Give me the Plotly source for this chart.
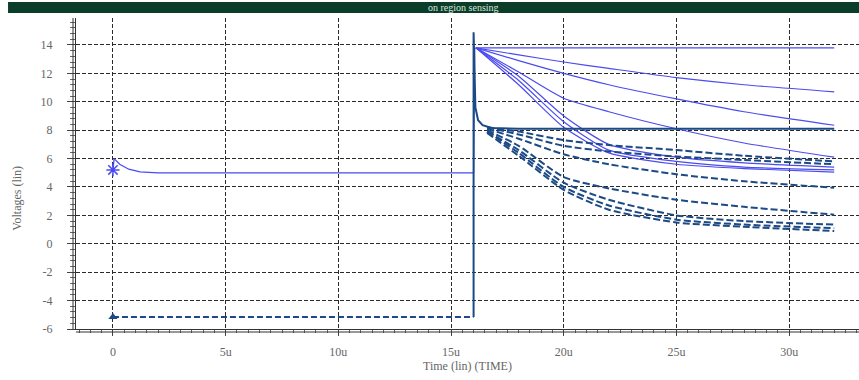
import plotly.graph_objects as go

# ---- waveform data (time in us, voltage in V) ----
# light-blue solid family: pre-charge then decay from ~13.8 V
pre_t = [0.0, 0.05, 0.3, 0.7, 1.2, 2.0, 16.0, 16.05]
pre_v = [5.2, 6.0, 5.6, 5.25, 5.07, 5.0, 5.0, 13.8]

solid_t = [16.1, 18.0, 20.0, 22.0, 25.0, 28.0, 32.0]
solid_v = {
    "s0": [13.8, 13.8, 13.8, 13.8, 13.8, 13.8, 13.8],
    "s1": [13.8, 13.3, 12.8, 12.35, 11.7, 11.2, 10.7],
    "s2": [13.8, 12.9, 12.0, 11.2, 10.2, 9.3, 8.35],
    "s3": [13.8, 12.1, 10.25, 9.3, 8.1, 7.1, 6.1],
    "s4": [13.8, 11.8, 9.0, 7.0, 6.1, 5.7, 5.4],
    "s5": [13.8, 11.5, 8.6, 6.6, 5.8, 5.4, 5.2],
    "s6": [13.8, 11.2, 8.2, 6.4, 5.6, 5.3, 5.05],
}

# dark trace: hold at -5.15 V, kick at 16 us, settle to ~8.1 V
hold_t = [0.0, 16.0]
hold_v = [-5.15, -5.15]
kick_t = [16.0, 16.0, 16.08, 16.2, 16.4, 16.8, 18.0, 32.0]
kick_v = [-5.15, 14.9, 9.6, 8.7, 8.35, 8.15, 8.1, 8.1]

# dark dashed family decaying from ~8.2 V
dash_t = [16.6, 18.0, 20.0, 22.0, 25.0, 28.0, 32.0]
dash_v = {
    "d0": [8.2, 7.9, 7.3, 6.95, 6.6, 6.2, 5.8],
    "d1": [8.2, 7.7, 6.9, 6.5, 6.15, 5.9, 5.6],
    "d2": [8.1, 7.4, 6.3, 5.6, 4.9, 4.4, 3.95],
    "d3": [8.0, 6.9, 4.7, 3.9, 3.1, 2.6, 2.05],
    "d4": [7.9, 6.6, 4.3, 3.1, 2.0, 1.6, 1.35],
    "d5": [7.9, 6.4, 4.0, 2.7, 1.7, 1.35, 1.1],
    "d6": [7.8, 6.2, 3.8, 2.4, 1.5, 1.2, 0.9],
}

x_ticks = [0, 5, 10, 15, 20, 25, 30]
x_labels = ["0", "5u", "10u", "15u", "20u", "25u", "30u"]
y_ticks = [-6, -4, -2, 0, 2, 4, 6, 8, 10, 12, 14]
y_labels = ["-6", "-4", "-2", "0", "2", "4", "6", "8", "10", "12", "14"]

LIGHT = "#4b4bf0"
DARK = "#1c4a86"

fig = go.Figure()

fig.add_trace(go.Scatter(x=pre_t, y=pre_v, mode="lines",
                         line=dict(color=LIGHT, width=1.3)))
for name, v in solid_v.items():
    fig.add_trace(go.Scatter(x=solid_t, y=v, mode="lines", name=name,
                             line=dict(color=LIGHT, width=1.2, shape="spline", smoothing=0.6)))

fig.add_trace(go.Scatter(x=hold_t, y=hold_v, mode="lines",
                         line=dict(color=DARK, width=2, dash="6px,3px")))
fig.add_trace(go.Scatter(x=kick_t, y=kick_v, mode="lines",
                         line=dict(color=DARK, width=2)))
for name, v in dash_v.items():
    fig.add_trace(go.Scatter(x=dash_t, y=v, mode="lines", name=name,
                             line=dict(color=DARK, width=2, dash="7px,3px",
                                       shape="spline", smoothing=0.6)))

# start markers
fig.add_trace(go.Scatter(x=[pre_t[0]], y=[pre_v[0]], mode="markers",
                         marker=dict(symbol="asterisk-open", size=11, color=LIGHT,
                                     line=dict(color=LIGHT, width=1.5))))
fig.add_trace(go.Scatter(x=[hold_t[0]], y=[hold_v[0]], mode="markers",
                         marker=dict(symbol="triangle-up", size=8, color=DARK)))

serif = "Liberation Serif"
grid = dict(showgrid=True, gridcolor="#2a2a2a", gridwidth=1, griddash="4px,2px")

fig.update_layout(
    width=859, height=380,
    margin=dict(l=76, r=0, t=18, b=51),
    paper_bgcolor="white", plot_bgcolor="white",
    showlegend=False,
    font=dict(family=serif, size=12, color="#666666"),
    xaxis=dict(
        range=[-1.64, 33.1], tickmode="array", tickvals=x_ticks, ticktext=x_labels,
        ticks="outside", ticklen=6, tickcolor="#444", showline=True,
        linecolor="#333", linewidth=1, zeroline=False,
        minor=dict(dtick=0.5, ticklen=3, ticks="outside", tickcolor="#666", showgrid=False),
        ticklabelstandoff=6,
        title=dict(text="Time (lin) (TIME)", font=dict(size=12, color="#666"), standoff=2),
        **grid,
    ),
    yaxis=dict(
        range=[-6, 15.9], tickmode="array", tickvals=y_ticks, ticktext=y_labels,
        ticks="outside", ticklen=8, tickcolor="#444", showline=True,
        linecolor="#333", linewidth=1, zeroline=False,
        minor=dict(dtick=0.4, ticklen=5, ticks="outside", tickcolor="#666", showgrid=False),
        ticklabelstandoff=12,
        **grid,
    ),
)

# doubled frame lines on left and bottom
fig.add_shape(type="line", xref="paper", yref="paper", xsizemode="pixel", xanchor=0,
              x0=-3, x1=-3, y0=0, y1=1, line=dict(color="#333", width=1))
fig.add_shape(type="line", xref="paper", yref="paper", ysizemode="pixel", yanchor=0,
              x0=0, x1=1, y0=-3, y1=-3, line=dict(color="#333", width=1))

# window caption bar
fig.add_shape(type="rect", xref="paper", yref="paper",
              x0=-0.0868, x1=1.0, y0=1.016, y1=1.0514,
              line=dict(width=0), fillcolor="#0b3d2b", layer="above")
fig.add_annotation(text="on region sensing", xref="paper", yref="paper",
                   x=0.495, y=1.0337, yanchor="middle", xanchor="center", showarrow=False,
                   font=dict(family=serif, size=10, color="#d8e6dc"))

fig.add_annotation(text="Voltages (lin)", xref="paper", yref="paper",
                   x=-0.075, y=0.42, textangle=-90, showarrow=False,
                   xanchor="center", yanchor="middle",
                   font=dict(family=serif, size=12, color="#666"))

fig.write_html("out.html")
